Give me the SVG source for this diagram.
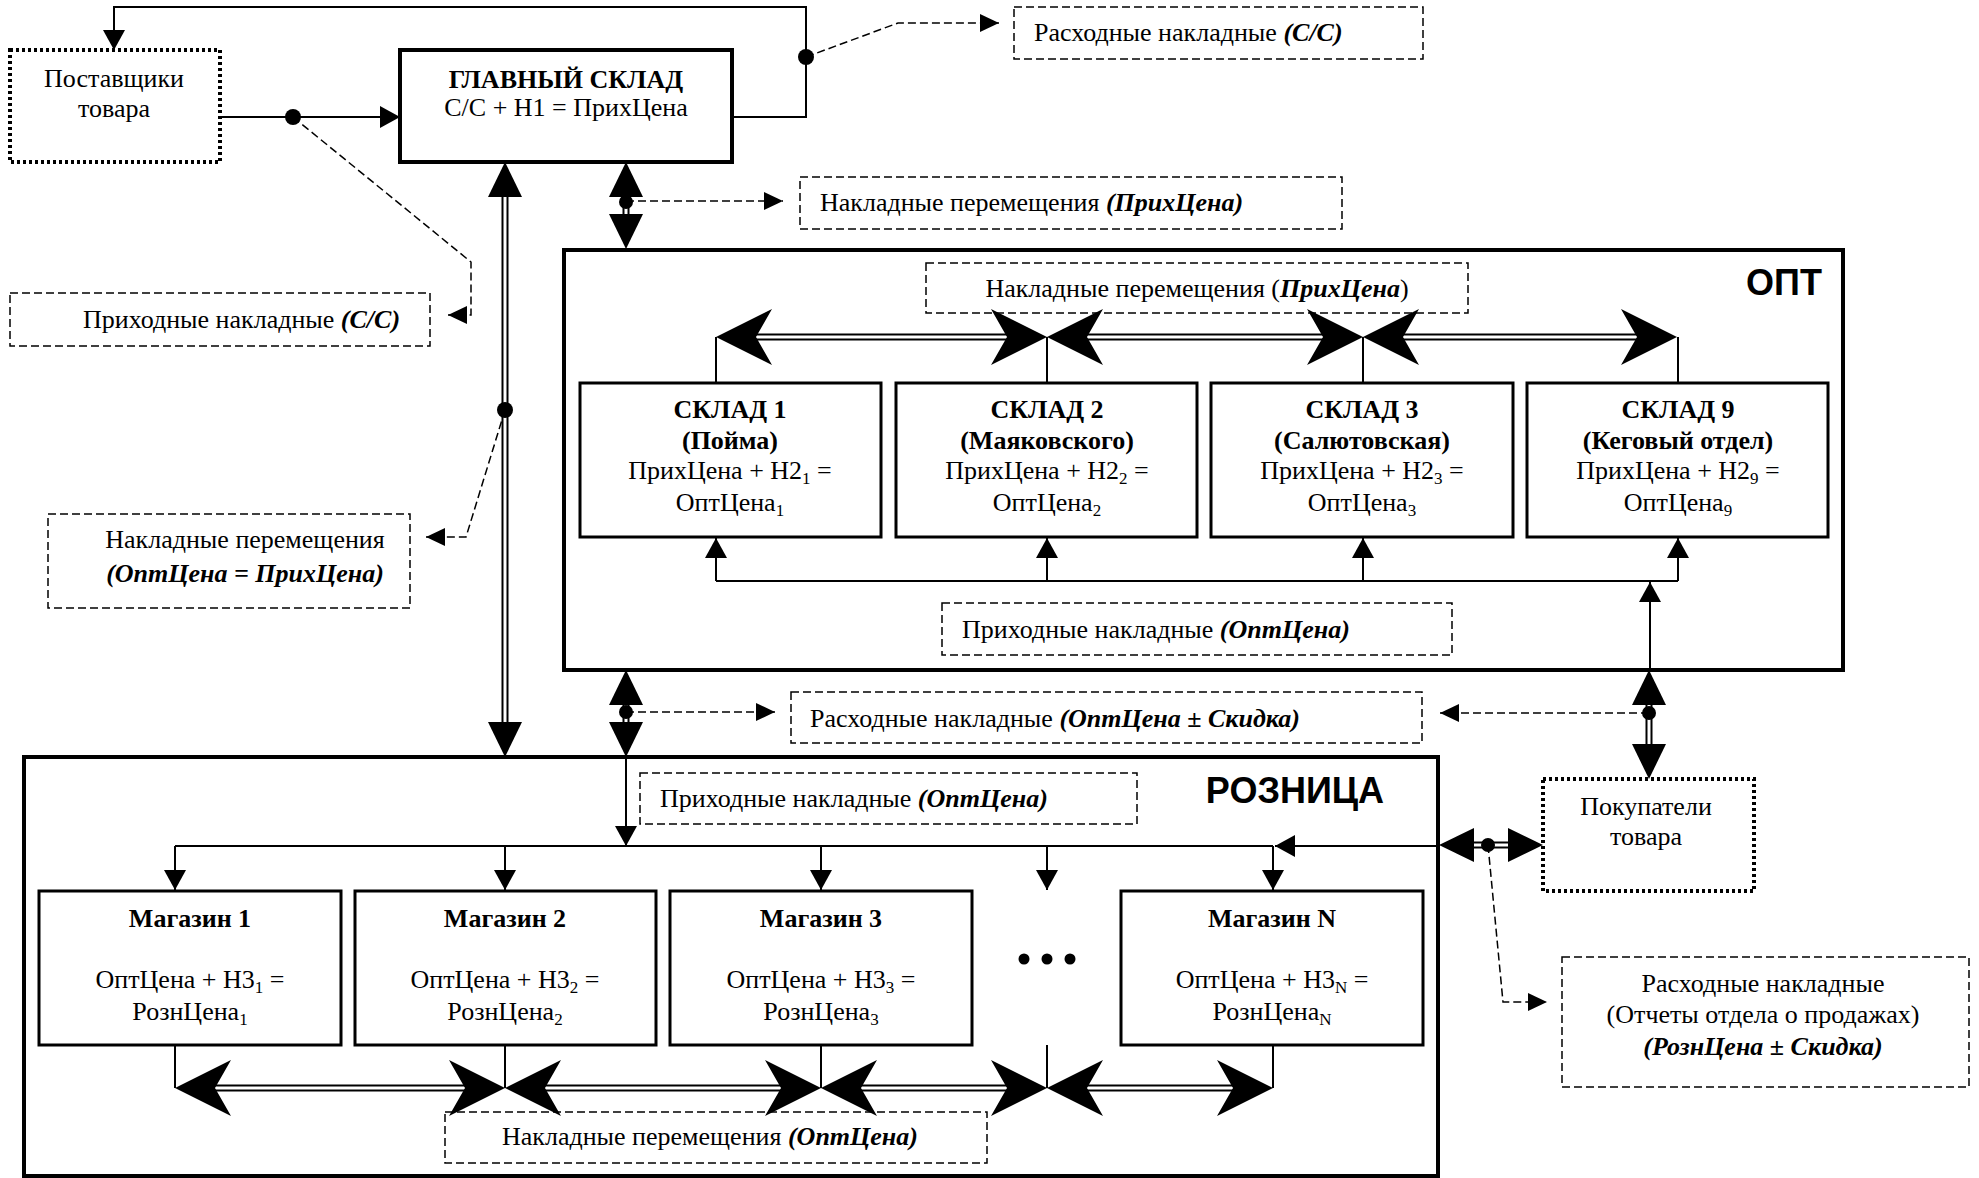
<svg xmlns="http://www.w3.org/2000/svg" xmlns:xlink="http://www.w3.org/1999/xlink" width="1979" height="1178" viewBox="0 0 1979 1178">
<style>
.t{font-family:"Liberation Serif","Times New Roman",serif;font-size:26px;fill:#000}
.b{font-weight:bold}
.bi{font-weight:bold;font-style:italic}
.h{font-family:"Liberation Sans",Arial,sans-serif;font-weight:bold;font-size:36px;fill:#000}
.box{fill:#fff;stroke:#000;stroke-width:3}
.big{fill:#fff;stroke:#000;stroke-width:4}
.dash{fill:none;stroke:#000;stroke-width:1.5;stroke-dasharray:8 4}
.dot{fill:#fff;stroke:#000;stroke-width:4;stroke-dasharray:3 3}
.ln{fill:none;stroke:#000;stroke-width:2}
.dl{fill:none;stroke:#000;stroke-width:1.5;stroke-dasharray:8 4}
.dbo{fill:none;stroke:#000;stroke-width:7}
.dbi{fill:none;stroke:#fff;stroke-width:3}
.sub{font-size:17px}
</style>
<defs>
<marker id="a" viewBox="0 0 20 22" refX="20" refY="11" markerWidth="20" markerHeight="22" markerUnits="userSpaceOnUse" orient="auto"><path d="M0,0 L20,11 L0,22 Z" fill="#000"/></marker>
<marker id="ad" viewBox="0 0 19 18" refX="19" refY="9" markerWidth="19" markerHeight="18" markerUnits="userSpaceOnUse" orient="auto"><path d="M0,0 L19,9 L0,18 Z" fill="#000"/></marker>
<path id="tri" d="M0,0 L-17,35 L17,35 Z" fill="#000"/>
<path id="stl" d="M0,0 L56,-28 L40,0 L56,28 Z" fill="#000"/>
</defs>
<rect width="1979" height="1178" fill="#fff"/>

<g id="opt">
<rect class="big" x="564" y="250" width="1279" height="420"/>
<text class="h" x="1784" y="295" text-anchor="middle">ОПТ</text>
</g>
<g id="roznica">
<rect class="big" x="24" y="757" width="1414" height="419"/>
<text class="h" x="1295" y="803" text-anchor="middle">РОЗНИЦА</text>
</g>

<g id="postavshiki">
<rect class="dot" x="10" y="50" width="210" height="112"/>
<text class="t" x="114" y="87" text-anchor="middle">Поставщики</text>
<text class="t" x="114" y="117" text-anchor="middle">товара</text>
</g>
<g id="glavny-sklad">
<rect class="big" x="400" y="50" width="332" height="112"/>
<text class="t b" x="566" y="88" text-anchor="middle">ГЛАВНЫЙ СКЛАД</text>
<text class="t" x="566" y="116" text-anchor="middle">С/С + Н1 = ПрихЦена</text>
</g>
<g id="lbl-rash-ss">
<rect class="dash" x="1014" y="7" width="409" height="52"/>
<text class="t" x="1034" y="41">Расходные накладные <tspan class="bi">(С/С)</tspan></text>
</g>
<g id="lbl-perem-prih">
<rect class="dash" x="800" y="177" width="542" height="52"/>
<text class="t" x="820" y="211">Накладные перемещения <tspan class="bi">(ПрихЦена)</tspan></text>
</g>
<g id="lbl-prih-ss">
<rect class="dash" x="10" y="293" width="420" height="53"/>
<text class="t" x="83" y="328">Приходные накладные <tspan class="bi">(С/С)</tspan></text>
</g>
<g id="lbl-perem-opt-prih">
<rect class="dash" x="48" y="514" width="362" height="94"/>
<text class="t" x="245" y="548" text-anchor="middle">Накладные перемещения</text>
<text class="t bi" x="245" y="582" text-anchor="middle">(ОптЦена = ПрихЦена)</text>
</g>

<g id="lbl-opt-perem">
<rect class="dash" x="926" y="263" width="542" height="50"/>
<text class="t" x="1197" y="297" text-anchor="middle">Накладные перемещения (<tspan class="bi">ПрихЦена</tspan>)</text>
</g>
<g id="sklad1">
<rect class="box" x="580" y="383" width="301" height="154"/>
<text class="t b" x="730" y="418" text-anchor="middle">СКЛАД 1</text>
<text class="t b" x="730" y="449" text-anchor="middle">(Пойма)</text>
<text class="t" x="730" y="479" text-anchor="middle">ПрихЦена + Н2<tspan class="sub" dy="5">1</tspan><tspan dy="-5"> =</tspan></text>
<text class="t" x="730" y="511" text-anchor="middle">ОптЦена<tspan class="sub" dy="5">1</tspan></text>
</g>
<g id="sklad2">
<rect class="box" x="896" y="383" width="301" height="154"/>
<text class="t b" x="1047" y="418" text-anchor="middle">СКЛАД 2</text>
<text class="t b" x="1047" y="449" text-anchor="middle">(Маяковского)</text>
<text class="t" x="1047" y="479" text-anchor="middle">ПрихЦена + Н2<tspan class="sub" dy="5">2</tspan><tspan dy="-5"> =</tspan></text>
<text class="t" x="1047" y="511" text-anchor="middle">ОптЦена<tspan class="sub" dy="5">2</tspan></text>
</g>
<g id="sklad3">
<rect class="box" x="1211" y="383" width="302" height="154"/>
<text class="t b" x="1362" y="418" text-anchor="middle">СКЛАД 3</text>
<text class="t b" x="1362" y="449" text-anchor="middle">(Салютовская)</text>
<text class="t" x="1362" y="479" text-anchor="middle">ПрихЦена + Н2<tspan class="sub" dy="5">3</tspan><tspan dy="-5"> =</tspan></text>
<text class="t" x="1362" y="511" text-anchor="middle">ОптЦена<tspan class="sub" dy="5">3</tspan></text>
</g>
<g id="sklad9">
<rect class="box" x="1527" y="383" width="301" height="154"/>
<text class="t b" x="1678" y="418" text-anchor="middle">СКЛАД 9</text>
<text class="t b" x="1678" y="449" text-anchor="middle">(Кеговый отдел)</text>
<text class="t" x="1678" y="479" text-anchor="middle">ПрихЦена + Н2<tspan class="sub" dy="5">9</tspan><tspan dy="-5"> =</tspan></text>
<text class="t" x="1678" y="511" text-anchor="middle">ОптЦена<tspan class="sub" dy="5">9</tspan></text>
</g>
<g id="lbl-opt-prih">
<rect class="dash" x="942" y="603" width="510" height="52"/>
<text class="t" x="962" y="638">Приходные накладные <tspan class="bi">(ОптЦена)</tspan></text>
</g>

<g id="lbl-rash-opt">
<rect class="dash" x="791" y="692" width="631" height="51"/>
<text class="t" x="810" y="727">Расходные накладные <tspan class="bi">(ОптЦена ± Скидка)</tspan></text>
</g>
<g id="pokupateli">
<rect class="dot" x="1543" y="779" width="211" height="112"/>
<text class="t" x="1646" y="815" text-anchor="middle">Покупатели</text>
<text class="t" x="1646" y="845" text-anchor="middle">товара</text>
</g>
<g id="lbl-rash-rozn">
<rect class="dash" x="1562" y="957" width="407" height="130"/>
<text class="t" x="1763" y="992" text-anchor="middle">Расходные накладные</text>
<text class="t" x="1763" y="1023" text-anchor="middle">(Отчеты отдела о продажах)</text>
<text class="t bi" x="1763" y="1055" text-anchor="middle">(РознЦена ± Скидка)</text>
</g>

<g id="lbl-rozn-prih">
<rect class="dash" x="640" y="773" width="497" height="51"/>
<text class="t" x="660" y="807">Приходные накладные <tspan class="bi">(ОптЦена)</tspan></text>
</g>
<g id="magazin1">
<rect class="box" x="39" y="891" width="302" height="154"/>
<text class="t b" x="190" y="927" text-anchor="middle">Магазин 1</text>
<text class="t" x="190" y="988" text-anchor="middle">ОптЦена + Н3<tspan class="sub" dy="5">1</tspan><tspan dy="-5"> =</tspan></text>
<text class="t" x="190" y="1020" text-anchor="middle">РознЦена<tspan class="sub" dy="5">1</tspan></text>
</g>
<g id="magazin2">
<rect class="box" x="355" y="891" width="301" height="154"/>
<text class="t b" x="505" y="927" text-anchor="middle">Магазин 2</text>
<text class="t" x="505" y="988" text-anchor="middle">ОптЦена + Н3<tspan class="sub" dy="5">2</tspan><tspan dy="-5"> =</tspan></text>
<text class="t" x="505" y="1020" text-anchor="middle">РознЦена<tspan class="sub" dy="5">2</tspan></text>
</g>
<g id="magazin3">
<rect class="box" x="670" y="891" width="302" height="154"/>
<text class="t b" x="821" y="927" text-anchor="middle">Магазин 3</text>
<text class="t" x="821" y="988" text-anchor="middle">ОптЦена + Н3<tspan class="sub" dy="5">3</tspan><tspan dy="-5"> =</tspan></text>
<text class="t" x="821" y="1020" text-anchor="middle">РознЦена<tspan class="sub" dy="5">3</tspan></text>
</g>
<g id="ellipsis">
<circle cx="1024" cy="959" r="5.5"/>
<circle cx="1047" cy="959" r="5.5"/>
<circle cx="1070" cy="959" r="5.5"/>
</g>
<g id="magazinN">
<rect class="box" x="1121" y="891" width="302" height="154"/>
<text class="t b" x="1272" y="927" text-anchor="middle">Магазин N</text>
<text class="t" x="1272" y="988" text-anchor="middle">ОптЦена + Н3<tspan class="sub" dy="5">N</tspan><tspan dy="-5"> =</tspan></text>
<text class="t" x="1272" y="1020" text-anchor="middle">РознЦена<tspan class="sub" dy="5">N</tspan></text>
</g>
<g id="lbl-rozn-perem">
<rect class="dash" x="445" y="1112" width="542" height="51"/>
<text class="t" x="502" y="1145">Накладные перемещения <tspan class="bi">(ОптЦена)</tspan></text>
</g>

<g id="connectors">
<!-- thin solid connectors -->
<path class="ln" d="M220,117 L400,117" marker-end="url(#a)"/>
<path class="ln" d="M732,117 L806,117 L806,7 L114,7 L114,50" marker-end="url(#a)"/>
<path class="ln" d="M716,383 L716,337 M1047,383 L1047,337 M1363,383 L1363,337 M1678,383 L1678,337"/>
<path class="ln" d="M716,581 L1678,581"/>
<path class="ln" d="M716,581 L716,538" marker-end="url(#a)"/>
<path class="ln" d="M1047,581 L1047,538" marker-end="url(#a)"/>
<path class="ln" d="M1363,581 L1363,538" marker-end="url(#a)"/>
<path class="ln" d="M1678,581 L1678,538" marker-end="url(#a)"/>
<path class="ln" d="M1650,670 L1650,582" marker-end="url(#a)"/>
<path class="ln" d="M626,757 L626,846" marker-end="url(#a)"/>
<path class="ln" d="M175,846 L1273,846"/>
<path class="ln" d="M1438,846 L1275,846" marker-end="url(#a)"/>
<path class="ln" d="M175,846 L175,890" marker-end="url(#a)"/>
<path class="ln" d="M505,846 L505,890" marker-end="url(#a)"/>
<path class="ln" d="M821,846 L821,890" marker-end="url(#a)"/>
<path class="ln" d="M1047,846 L1047,890" marker-end="url(#a)"/>
<path class="ln" d="M1273,846 L1273,890" marker-end="url(#a)"/>
<path class="ln" d="M175,1045 L175,1088 M505,1045 L505,1088 M821,1045 L821,1088 M1047,1045 L1047,1088 M1273,1045 L1273,1088"/>
<!-- dashed document connectors -->
<path class="dl" d="M293,117 L471,262 L471,315 L448,315" marker-end="url(#ad)"/>
<path class="dl" d="M806,57 L898,23 L999,23" marker-end="url(#ad)"/>
<path class="dl" d="M626,201 L783,201" marker-end="url(#ad)"/>
<path class="dl" d="M505,410 L466,537 L426,537" marker-end="url(#ad)"/>
<path class="dl" d="M626,712 L775,712" marker-end="url(#ad)"/>
<path class="dl" d="M1649,713 L1440,713" marker-end="url(#ad)"/>
<path class="dl" d="M1488,845 L1503,1002 L1547,1002" marker-end="url(#ad)"/>
<!-- double lines -->
<path class="dbo" d="M505,196 L505,723 M626,196 L626,215 M626,704 L626,723 M1649,704 L1649,746 M1472,845 L1508,845 M756,337 L1007,337 M1087,337 L1323,337 M1403,337 L1637,337 M215,1088 L465,1088 M545,1088 L781,1088 M861,1088 L1007,1088 M1087,1088 L1233,1088"/>
<path class="dbi" d="M505,196 L505,723 M626,196 L626,215 M626,704 L626,723 M1649,704 L1649,746 M1472,845 L1508,845 M756,337 L1007,337 M1087,337 L1323,337 M1403,337 L1637,337 M215,1088 L465,1088 M545,1088 L781,1088 M861,1088 L1007,1088 M1087,1088 L1233,1088"/>
<!-- big triangle heads -->
<use xlink:href="#tri" transform="translate(505,162)"/>
<use xlink:href="#tri" transform="translate(505,757) rotate(180)"/>
<use xlink:href="#tri" transform="translate(626,162)"/>
<use xlink:href="#tri" transform="translate(626,249) rotate(180)"/>
<use xlink:href="#tri" transform="translate(626,670)"/>
<use xlink:href="#tri" transform="translate(626,757) rotate(180)"/>
<use xlink:href="#tri" transform="translate(1649,670)"/>
<use xlink:href="#tri" transform="translate(1649,779) rotate(180)"/>
<use xlink:href="#tri" transform="translate(1439,845) rotate(-90)"/>
<use xlink:href="#tri" transform="translate(1543,845) rotate(90)"/>
<!-- stealth heads -->
<use xlink:href="#stl" transform="translate(716,337)"/>
<use xlink:href="#stl" transform="translate(1047,337) scale(-1,1)"/>
<use xlink:href="#stl" transform="translate(1047,337)"/>
<use xlink:href="#stl" transform="translate(1363,337) scale(-1,1)"/>
<use xlink:href="#stl" transform="translate(1363,337)"/>
<use xlink:href="#stl" transform="translate(1677,337) scale(-1,1)"/>
<use xlink:href="#stl" transform="translate(175,1088)"/>
<use xlink:href="#stl" transform="translate(505,1088) scale(-1,1)"/>
<use xlink:href="#stl" transform="translate(505,1088)"/>
<use xlink:href="#stl" transform="translate(821,1088) scale(-1,1)"/>
<use xlink:href="#stl" transform="translate(821,1088)"/>
<use xlink:href="#stl" transform="translate(1047,1088) scale(-1,1)"/>
<use xlink:href="#stl" transform="translate(1047,1088)"/>
<use xlink:href="#stl" transform="translate(1273,1088) scale(-1,1)"/>
<!-- junction dots -->
<circle cx="293" cy="117" r="8"/>
<circle cx="806" cy="57" r="8"/>
<circle cx="505" cy="410" r="8"/>
<circle cx="626" cy="202" r="7"/>
<circle cx="626" cy="712" r="7"/>
<circle cx="1649" cy="713" r="7"/>
<circle cx="1488" cy="845" r="7"/>
</g>
</svg>
